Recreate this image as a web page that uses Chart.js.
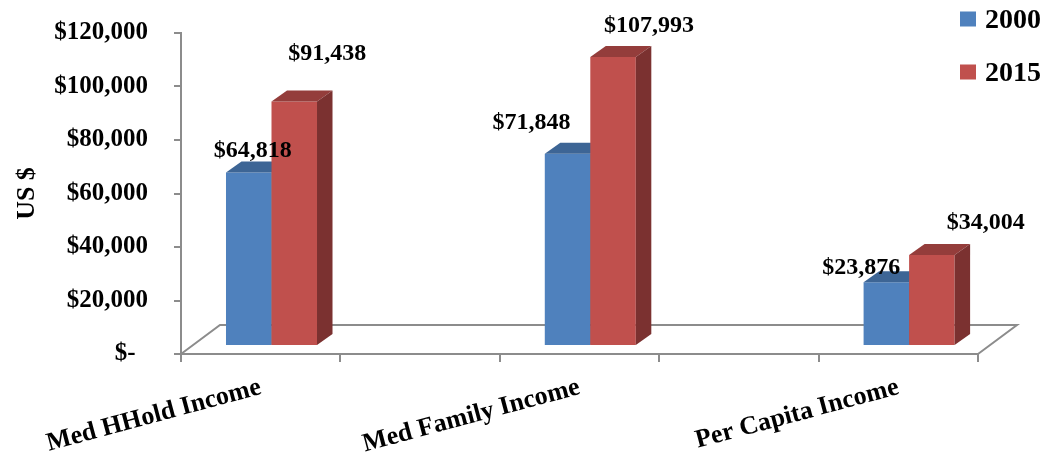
<!DOCTYPE html>
<html>
<head>
<meta charset="utf-8">
<script src="https://cdn.jsdelivr.net/npm/chart.js@4.4.1/dist/chart.umd.min.js"></script>
<style>
  html, body { margin: 0; padding: 0; background: #fff; }
  #wrap { width: 1052px; height: 456px; }
</style>
</head>
<body>
<div id="wrap"><canvas id="incomeChart" width="1052" height="456"></canvas></div>
<script>
// the blank slots keep the wide gaps between the three groups
const categories = ['Med HHold Income', '', 'Med Family Income', '', 'Per Capita Income'];
const income2000 = [64818, null, 71848, null, 23876];
const income2015 = [91438, null, 107993, null, 34004];
const seriesNames = ['2000', '2015'];
const yTicks = [0, 20000, 40000, 60000, 80000, 100000, 120000];

const SERIF = '"Liberation Serif", "Times New Roman", serif';
const GRAY = '#8C8C8C';
const FRONT = ['#4F81BD', '#C0504D'];
const TOP = ['#3D6595', '#943D3B'];
const SIDE = ['#34557F', '#7B3130'];

// fake 3d: floor depth, where the bars stand on it, and bar depth
const floorDepth = { dx: 39, dy: -29 };
const barShift = { dx: 10.8, dy: -8 };
const barDepth = { dx: 15.5, dy: -11 };

// hand placed value labels: offset of the text baseline centre from the bar top
const labelNudge = [
  [[4, -16], null, [-36, -25], null, [-25, -8]],
  [[33, -41], null, [36, -25], null, [54, -26]]
];

const money = v => v === 0 ? '$-  ' : '$' + v.toLocaleString('en-US');

const bars3d = {
  id: 'bars3d',
  beforeDatasetsDraw(chart) {
    const { ctx, chartArea: a } = chart;
    ctx.save();
    ctx.strokeStyle = GRAY;
    ctx.lineWidth = 2;
    ctx.beginPath();
    ctx.moveTo(a.left, a.bottom);
    ctx.lineTo(a.left + floorDepth.dx, a.bottom + floorDepth.dy);
    ctx.lineTo(a.right + floorDepth.dx, a.bottom + floorDepth.dy);
    ctx.lineTo(a.right, a.bottom);
    ctx.stroke();
    ctx.restore();
  },
  // bars are drawn below, category by category, so the faces overlap properly
  beforeDatasetDraw() {
    return false;
  },
  afterDatasetsDraw(chart) {
    const ctx = chart.ctx;
    const sets = chart.data.datasets;
    ctx.save();
    ctx.translate(barShift.dx, barShift.dy);
    categories.forEach((_, i) => {
      sets.forEach((ds, d) => {
        if (ds.data[i] == null) return;
        const bar = chart.getDatasetMeta(d).data[i];
        const { x, y, base, width } = bar.getProps(['x', 'y', 'base', 'width'], true);
        const l = x - width / 2, r = x + width / 2;
        bar.draw(ctx);
        ctx.fillStyle = TOP[d];
        ctx.beginPath();
        ctx.moveTo(l, y);
        ctx.lineTo(r, y);
        ctx.lineTo(r + barDepth.dx, y + barDepth.dy);
        ctx.lineTo(l + barDepth.dx, y + barDepth.dy);
        ctx.closePath();
        ctx.fill();
        ctx.fillStyle = SIDE[d];
        ctx.beginPath();
        ctx.moveTo(r, y);
        ctx.lineTo(r + barDepth.dx, y + barDepth.dy);
        ctx.lineTo(r + barDepth.dx, base + barDepth.dy);
        ctx.lineTo(r, base);
        ctx.closePath();
        ctx.fill();
      });
    });
    ctx.font = 'bold 24px ' + SERIF;
    ctx.fillStyle = '#000';
    ctx.textAlign = 'center';
    ctx.textBaseline = 'alphabetic';
    sets.forEach((ds, d) => {
      chart.getDatasetMeta(d).data.forEach((bar, i) => {
        const nudge = labelNudge[d][i];
        if (ds.data[i] == null || !nudge) return;
        ctx.fillText(money(ds.data[i]), bar.x + nudge[0], bar.y + nudge[1]);
      });
    });
    ctx.restore();
  },
  afterDraw(chart) {
    const ctx = chart.ctx;
    ctx.save();
    ctx.font = 'bold 28px ' + SERIF;
    ctx.fillStyle = '#000';
    ctx.textBaseline = 'alphabetic';
    chart.data.datasets.forEach((ds, d) => {
      const top = 11.5 + d * 53;
      ctx.fillStyle = ds.backgroundColor;
      ctx.fillRect(960, top, 16, 15);
      ctx.fillStyle = '#000';
      ctx.fillText(ds.label, 985, top + 16.5);
    });
    ctx.restore();
  }
};

const tickFont = { family: SERIF, size: 25, weight: 'bold' };

new Chart(document.getElementById('incomeChart'), {
  type: 'bar',
  data: {
    labels: categories,
    datasets: [
      { label: seriesNames[0], data: income2000, backgroundColor: FRONT[0] },
      { label: seriesNames[1], data: income2015, backgroundColor: FRONT[1] }
    ]
  },
  options: {
    responsive: false,
    animation: false,
    categoryPercentage: 0.571,
    barPercentage: 1,
    layout: { padding: { top: 33, right: 74, bottom: 0, left: 0 } },
    plugins: {
      legend: { display: false },
      tooltip: { enabled: false }
    },
    scales: {
      x: {
        offset: true,
        afterFit: s => { s.height = 102; },
        border: { color: GRAY, width: 2 },
        grid: { offset: true, drawOnChartArea: false, color: GRAY, lineWidth: 2, tickLength: 8 },
        ticks: {
          autoSkip: false,
          minRotation: 15,
          maxRotation: 15,
          padding: 10,
          color: '#000',
          font: { family: SERIF, size: 26, weight: 'bold' }
        }
      },
      y: {
        min: 0,
        max: 120000,
        afterBuildTicks: s => { s.ticks = yTicks.map(v => ({ value: v })); },
        // the wide label padding would otherwise push the plot top down
        afterFit: s => {
          s.width = 181;
          s.paddingTop = 12;
          s.paddingBottom = 12;
        },
        border: { color: GRAY, width: 2 },
        grid: { drawOnChartArea: false, color: GRAY, lineWidth: 2, tickLength: 7 },
        ticks: { padding: 26, color: '#000', font: tickFont, callback: money },
        title: {
          display: true,
          text: 'US $',
          color: '#000',
          padding: { top: 12, bottom: 0 },
          font: { family: SERIF, size: 26, weight: 'bold' }
        }
      }
    }
  },
  plugins: [bars3d]
});
</script>
</body>
</html>
